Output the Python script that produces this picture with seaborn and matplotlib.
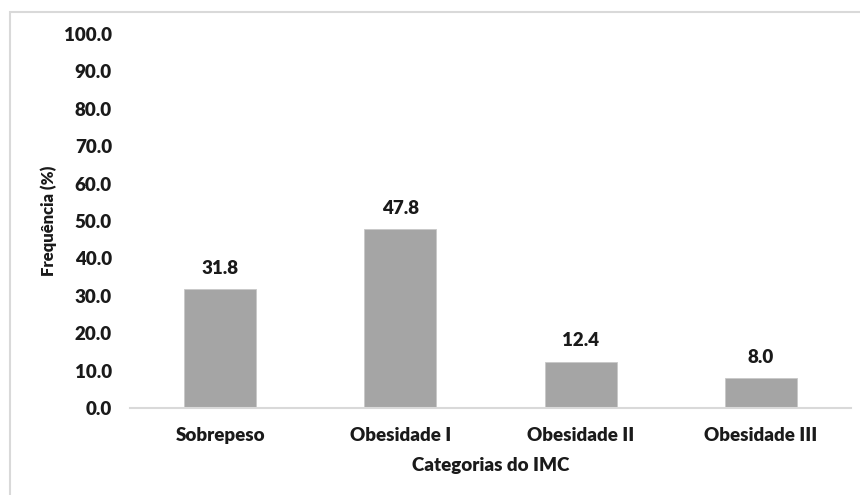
import matplotlib
matplotlib.use("Agg")
import matplotlib.pyplot as plt
import matplotlib.patches as mpatches
import seaborn as sns
import pandas as pd

# IMC categories and their frequencies (%)
categorias = ["Sobrepeso", "Obesidade I", "Obesidade II", "Obesidade III"]
frequencias = [31.8, 47.8, 12.4, 8.0]
yticks = [0, 10, 20, 30, 40, 50, 60, 70, 80, 90, 100]

df = pd.DataFrame({"Categoria": categorias, "Frequencia": frequencias})

sns.set_theme(style="white")
plt.rcParams["font.family"] = ["Lato", "DejaVu Sans"]
plt.rcParams["font.weight"] = "heavy"

W, H = 860, 495
ax_left, ax_right, ax_top, ax_bottom = 130, 851, 34, 408
fig = plt.figure(figsize=(W / 100, H / 100), dpi=100)
ax = fig.add_axes([ax_left / W, 1 - ax_bottom / H,
                   (ax_right - ax_left) / W, (ax_bottom - ax_top) / H])

sns.barplot(data=df, x="Categoria", y="Frequencia", color="#a5a5a5",
            saturation=1, width=0.4, ax=ax, edgecolor="#c8c8c8", linewidth=0.6)

ax.set_ylim(0, 100)
ax.set_xlim(-0.5, len(categorias) - 0.5)
ax.set_yticks(yticks)
ax.set_yticklabels([f"{v:.1f}" for v in yticks])
ax.tick_params(axis="y", length=0, pad=13, labelsize=13.5, labelcolor="#1a1a1a")
ax.tick_params(axis="x", length=0, pad=14, labelsize=13.5, labelcolor="#1a1a1a")
for lbl in ax.get_xticklabels() + ax.get_yticklabels():
    lbl.set_fontweight("heavy")

for side in ["left", "right", "top"]:
    ax.spines[side].set_visible(False)
ax.spines["bottom"].set_color("#d9d9d9")
ax.spines["bottom"].set_linewidth(1.5)

ax.set_xlabel("Categorias do IMC", fontsize=13.5, fontweight="heavy",
              color="#1a1a1a", labelpad=9)
ax.set_ylabel("Frequência (%)", fontsize=12, fontweight="heavy",
              color="#1a1a1a")
ax.yaxis.set_label_coords((57 - ax_left) / (ax_right - ax_left), 0.5)

# value labels above each bar
for i, v in enumerate(frequencias):
    ax.annotate(f"{v:.1f}", xy=(i, v), xytext=(0, 9), textcoords="offset points",
                ha="center", va="bottom", fontsize=13.5, fontweight="heavy",
                color="#1a1a1a")

# chart frame
frame = mpatches.Rectangle((10 / W, -0.05), 1.2, 1 - 12 / H + 0.05,
                           transform=fig.transFigure, fill=False,
                           edgecolor="#d9d9d9", linewidth=1.5)
fig.patches.append(frame)

fig.savefig("out.png", dpi=100, facecolor="white")
